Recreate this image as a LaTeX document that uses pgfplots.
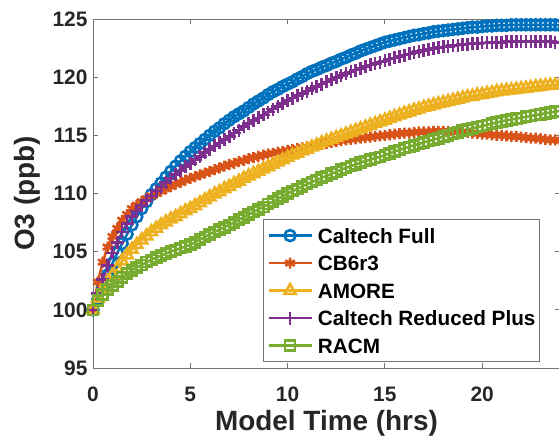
\documentclass[border=0pt]{standalone}
\usepackage{pgfplots}
\pgfplotsset{compat=1.18}
\usepackage{pgfplotstable}
\usepackage{fontspec}
\setmainfont{Liberation Sans}
\definecolor{c1}{rgb}{0,0.447,0.741}
\definecolor{c2}{rgb}{0.85,0.325,0.098}
\definecolor{c3}{rgb}{0.929,0.694,0.125}
\definecolor{c4}{rgb}{0.494,0.184,0.556}
\definecolor{c5}{rgb}{0.466,0.674,0.188}
\definecolor{axisgray}{rgb}{0.45,0.45,0.45}
\definecolor{labelc}{rgb}{0.15,0.15,0.15}
\pgfplotstableread{
t B R Y P G
0 100 100 100 100 100
0.25 100.9 102.4 101.0 101.4 100.8
0.5 102.0 104.1 101.8 102.6 101.3
0.75 103.0 105.4 102.4 103.8 101.75
1 104.0 106.3 103.0 104.9 102.1
1.25 104.9 107.0 103.6 105.8 102.45
1.5 105.7 107.7 104.2 106.7 102.8
1.75 106.5 108.2 104.7 107.4 103.1
2 107.3 108.7 105.2 108.0 103.4
2.25 108.0 109.0 105.6 108.5 103.65
2.5 108.7 109.3 106.0 108.95 103.85
2.75 109.3 109.55 106.35 109.4 104.1
3 109.9 109.8 106.7 109.8 104.3
3.25 110.4 110.0 107.0 110.2 104.5
3.5 110.9 110.2 107.3 110.55 104.65
3.75 111.4 110.4 107.55 110.95 104.85
4 111.9 110.6 107.8 111.3 105.0
4.25 112.35 110.8 108.0 111.65 105.15
4.5 112.8 110.95 108.25 111.95 105.3
4.75 113.2 111.15 108.5 112.3 105.45
5 113.6 111.3 108.7 112.6 105.6
5.25 113.95 111.45 108.95 112.9 105.8
5.5 114.3 111.6 109.2 113.2 106.05
5.75 114.65 111.75 109.45 113.5 106.25
6 115.0 111.9 109.7 113.8 106.5
6.25 115.35 112.05 109.95 114.1 106.7
6.5 115.65 112.2 110.15 114.35 106.9
6.75 116.0 112.35 110.4 114.65 107.1
7 116.3 112.5 110.6 114.9 107.3
7.25 116.6 112.6 110.85 115.2 107.5
7.5 116.85 112.75 111.05 115.45 107.75
7.75 117.1 112.85 111.3 115.75 107.95
8 117.4 113.0 111.5 116.0 108.2
8.25 117.7 113.1 111.7 116.25 108.4
8.5 117.95 113.2 111.9 116.5 108.65
8.75 118.2 113.3 112.1 116.75 108.85
9 118.5 113.4 112.3 117.0 109.1
9.25 118.75 113.45 112.5 117.25 109.3
9.5 118.95 113.55 112.7 117.5 109.55
9.75 119.2 113.6 112.9 117.75 109.75
10 119.4 113.7 113.1 118.0 110.0
10.25 119.6 113.8 113.3 118.2 110.2
10.5 119.85 113.85 113.45 118.4 110.4
10.75 120.05 113.95 113.65 118.6 110.6
11 120.3 114.0 113.8 118.8 110.8
11.25 120.5 114.1 114.0 119.0 111.0
11.5 120.65 114.15 114.15 119.2 111.15
11.75 120.85 114.25 114.35 119.4 111.35
12 121.0 114.3 114.5 119.6 111.5
12.25 121.2 114.4 114.65 119.8 111.7
12.5 121.35 114.45 114.8 119.95 111.85
12.75 121.55 114.55 114.95 120.15 112.05
13 121.7 114.6 115.1 120.3 112.2
13.25 121.9 114.65 115.25 120.45 112.35
13.5 122.05 114.7 115.4 120.6 112.5
13.75 122.25 114.75 115.55 120.75 112.65
14 122.4 114.8 115.7 120.9 112.8
14.25 122.55 114.85 115.85 121.05 112.9
14.5 122.7 114.9 116.0 121.15 113.05
14.75 122.85 114.95 116.15 121.3 113.15
15 123.0 115.0 116.3 121.4 113.3
15.25 123.1 115.05 116.45 121.55 113.45
15.5 123.2 115.1 116.6 121.65 113.6
15.75 123.3 115.15 116.75 121.8 113.75
16 123.4 115.2 116.9 121.9 113.9
16.25 123.5 115.2 117.0 122.0 114.0
16.5 123.6 115.25 117.15 122.1 114.15
16.75 123.65 115.3 117.25 122.2 114.25
17 123.75 115.3 117.4 122.3 114.4
17.25 123.8 115.3 117.5 122.4 114.5
17.5 123.9 115.35 117.6 122.45 114.65
17.75 123.95 115.35 117.7 122.55 114.75
18 124.0 115.35 117.8 122.6 114.9
18.25 124.05 115.35 117.9 122.65 115.0
18.5 124.1 115.3 118.0 122.7 115.15
18.75 124.15 115.3 118.1 122.75 115.25
19 124.2 115.3 118.2 122.8 115.4
19.25 124.25 115.25 118.3 122.85 115.5
19.5 124.3 115.2 118.35 122.9 115.6
19.75 124.3 115.15 118.45 122.9 115.7
20 124.35 115.1 118.5 122.95 115.8
20.25 124.4 115.1 118.6 122.95 115.9
20.5 124.4 115.05 118.65 123.0 116.0
20.75 124.45 115.0 118.75 123.0 116.1
21 124.45 115.0 118.8 123.0 116.2
21.25 124.45 114.95 118.85 123.05 116.3
21.5 124.5 114.9 118.9 123.05 116.35
21.75 124.5 114.9 118.95 123.05 116.45
22 124.5 114.85 119.0 123.05 116.5
22.25 124.5 114.8 119.05 123.05 116.6
22.5 124.5 114.75 119.1 123.05 116.65
22.75 124.5 114.75 119.15 123.05 116.75
23 124.5 114.7 119.2 123.05 116.8
23.25 124.5 114.65 119.25 123.05 116.9
23.5 124.5 114.6 119.3 123.05 116.95
23.75 124.5 114.6 119.3 123.0 117.05
24 124.45 114.55 119.35 123.0 117.1
}\data
\pgfplotsset{
  mstyle/.style={line width=2.6bp, mark options={solid, line width=2.6bp}},
}
\begin{document}
\begin{tikzpicture}
\useasboundingbox (-93bp,-71bp) rectangle (466bp,368bp);
\clip (-93bp,-71bp) rectangle (466bp,368bp);
\begin{axis}[
  at={(0,0)}, anchor=south west,
  scale only axis, width=467bp, height=349bp,
  xmin=0, xmax=24, ymin=95, ymax=125,
  xtick={0,5,10,15,20}, ytick={95,100,...,125},
  tick align=inside, major tick length=5bp,
  axis line style={axisgray, line width=0.8bp},
  every tick/.style={axisgray, line width=0.8bp},
  /pgf/number format/assume math mode=true,
  ticklabel style={font=\fontsize{21}{25}\selectfont\bfseries, text=labelc},
  xticklabel style={anchor=base, yshift=-33bp},
  yticklabel style={xshift=-2bp},
  xlabel={Model Time (hrs)}, ylabel={O3 (ppb)},
  label style={font=\fontsize{28}{32}\selectfont\bfseries, text=labelc},
  xlabel style={at={(axis description cs:0.5,-0.1777)}, anchor=base},
  ylabel style={at={(axis description cs:-0.1413,0.5)}, anchor=center},
  clip=false,
  legend cell align=left,
  legend style={at={(axis description cs:0.957,0.0172)}, anchor=south east,
    font=\fontsize{20.8}{24}\selectfont\bfseries, text=black,
    draw=axisgray, line width=0.8bp, inner xsep=4bp, inner ysep=4.5bp,
    row sep=4.5bp, nodes={inner sep=0pt, text height=19bp, text depth=4bp}},
  legend image code/.code={\draw[#1, mark repeat=2, mark phase=2] plot coordinates {(0bp,0bp) (21.5bp,0bp) (43bp,0bp)}; \path (48bp,0bp);},
]
\addplot[c1, mstyle, mark=o, mark size=5.5bp] table[x=t,y=B]{\data};
\addlegendentry{Caltech Full}
\addplot[c2, mstyle, mark=asterisk, mark size=5.5bp] table[x=t,y=R]{\data};
\addlegendentry{CB6r3}
\addplot[c3, mstyle, mark=triangle, mark size=6.5bp] table[x=t,y=Y]{\data};
\addlegendentry{AMORE}
\addplot[c4, mstyle, mark=+, mark size=6.5bp] table[x=t,y=P]{\data};
\addlegendentry{Caltech Reduced Plus}
\addplot[c5, mstyle, mark=square, mark size=5bp] table[x=t,y=G]{\data};
\addlegendentry{RACM}
\end{axis}
\end{tikzpicture}
\end{document}
